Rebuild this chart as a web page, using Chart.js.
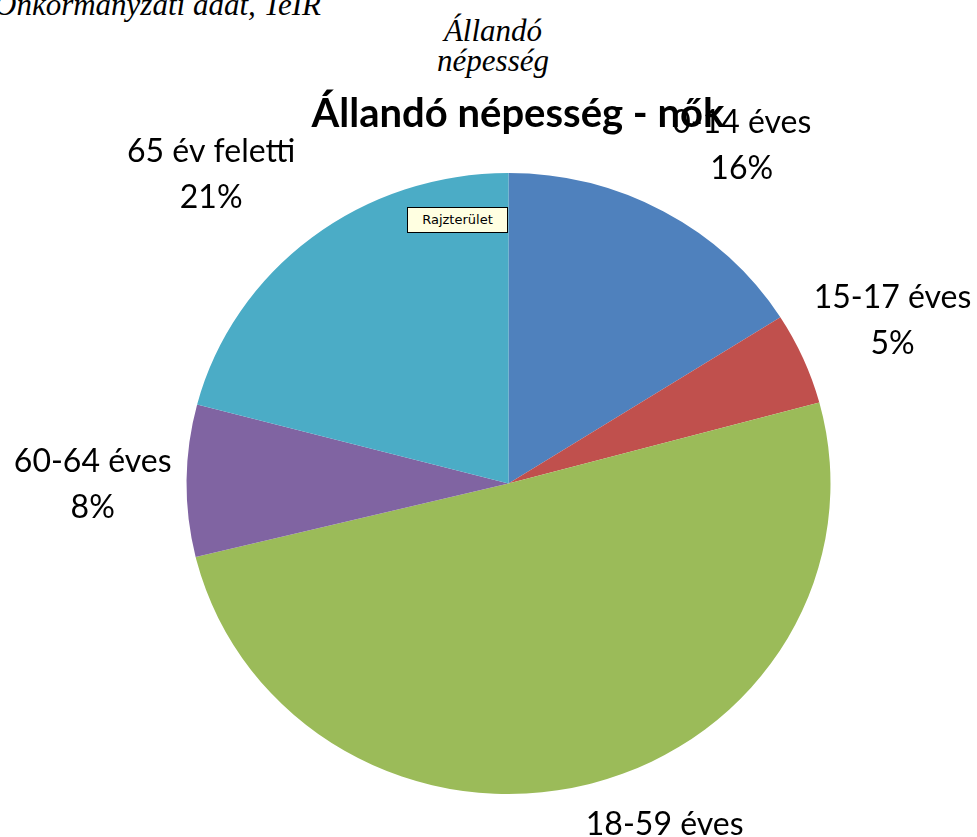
<!DOCTYPE html>
<html>
<head>
<meta charset="utf-8">
<script src="https://cdn.jsdelivr.net/npm/chart.js@4.4.1/dist/chart.umd.min.js"></script>
<style>
    body { margin: 0; background: #fff; width: 977px; height: 837px; overflow: hidden; position: relative; }
    #chartNok { position: absolute; left: 0; top: 0; }
    .serif { position: absolute; font-family: "Liberation Serif", "DejaVu Serif", serif; font-style: italic; color: #000; white-space: nowrap; }
    #source { left: -6px; top: -12px; font-size: 31px; line-height: 34px; }
    #subtitle { left: 393px; width: 200px; top: 16px; text-align: center; font-size: 31px; line-height: 30px; }
    #tip { position: absolute; left: 407px; top: 207px; width: 99px; height: 24px; background: #ffffe1; border: 1px solid #000;
           font-family: "DejaVu Sans", sans-serif; font-size: 13px; line-height: 24px; text-align: center; z-index: 2; }
</style>
</head>
<body>
<div id="source" class="serif">Önkormányzati adat, TeIR</div>
<div id="subtitle" class="serif">Állandó<br>népesség</div>
<canvas id="chartNok" width="977" height="837"></canvas>
<div id="tip">Rajzterület</div>
<script>
// Age groups and their share (%) of the female resident population
const ageGroups = ['0-14 éves', '15-17 éves', '18-59 éves', '60-64 éves', '65 év feletti'];
const shares = [16.0, 4.8, 50.4, 7.9, 20.9];
const sliceColors = ['#4f81bd', '#c0504d', '#9bbb59', '#8064a2', '#4bacc6'];
const chartTitle = 'Állandó népesség - nők';

// the original pie is a little wider than tall
const stretchX = 1.037;
// small hand offsets so the labels sit where Excel put them
const labelNudge = [[34, -6], [-3, -10], [51, -2], [7, 5], [-36, -9]];

// widen the pie around its centre
const stretchPie = {
    id: 'stretchPie',
    beforeDatasetsDraw(chart) {
        const arc = chart.getDatasetMeta(0).data[0];
        const ctx = chart.ctx;
        ctx.save();
        ctx.translate(arc.x, arc.y);
        ctx.scale(stretchX, 1);
        ctx.translate(-arc.x, -arc.y);
    },
    afterDatasetsDraw(chart) {
        chart.ctx.restore();
    }
};

// Draw the title and the outside labels (name + percent) for every slice
const pieLabels = {
    id: 'pieLabels',
    afterDraw(chart) {
        const ctx = chart.ctx;
        const meta = chart.getDatasetMeta(0);
        const values = chart.data.datasets[0].data;
        const total = values.reduce((a, b) => a + b, 0);

        ctx.save();
        ctx.fillStyle = '#000';
        ctx.textAlign = 'center';
        ctx.textBaseline = 'middle';

        const lineH = 46;
        ctx.font = '32px Lato';
        meta.data.forEach((arc, i) => {
            const p = arc.getProps(['x', 'y', 'startAngle', 'endAngle', 'outerRadius'], true);
            const mid = (p.startAngle + p.endAngle) / 2;
            const dx = Math.cos(mid), dy = Math.sin(mid);
            const line1 = chart.data.labels[i];
            const line2 = Math.round(values[i] / total * 100) + '%';
            const w = Math.max(ctx.measureText(line1).width, ctx.measureText(line2).width);
            const h = lineH * 2;
            const ax = p.x + dx * (p.outerRadius * stretchX + 22);
            const ay = p.y + dy * (p.outerRadius + 22);
            const cx = ax + dx * w / 2 + labelNudge[i][0];
            const cy = ay + dy * h / 2 + labelNudge[i][1];
            ctx.fillText(line1, cx, cy - lineH / 2);
            ctx.fillText(line2, cx, cy + lineH / 2);
        });

        ctx.font = 'bold 40px Lato';
        ctx.textBaseline = 'alphabetic';
        ctx.fillText(chartTitle, 518, 127);
        ctx.restore();
    }
};

new Chart(document.getElementById('chartNok').getContext('2d'), {
    type: 'pie',
    data: {
        labels: ageGroups,
        datasets: [{
            data: shares,
            backgroundColor: sliceColors,
            borderWidth: 0
        }]
    },
    options: {
        responsive: false,
        animation: false,
        layout: {
            padding: { left: 198, right: 158, top: 173, bottom: 43 }
        },
        plugins: {
            legend: { display: false },
            tooltip: { enabled: false }
        }
    },
    plugins: [stretchPie, pieLabels]
});
</script>
</body>
</html>
